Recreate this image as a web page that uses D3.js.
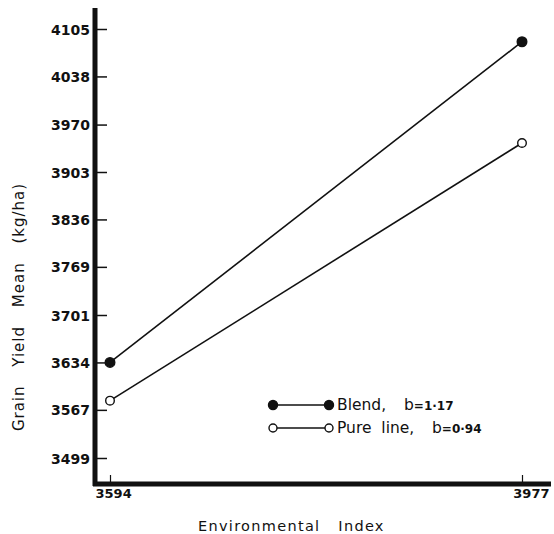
<!DOCTYPE html>
<html>
<head>
<meta charset="utf-8">
<script src="https://cdn.jsdelivr.net/npm/d3@7"></script>
<style>
  body { margin: 0; background: #fff; }
</style>
</head>
<body>
<svg id="chart" width="554" height="534"></svg>
<script>
// values
const envIndex = [3594, 3977];
const blend = [3634, 4087];
const pureLine = [3580, 3944];
const yTicks = [3499, 3567, 3634, 3701, 3769, 3836, 3903, 3970, 4038, 4105];
const series = [
  { name: "Blend,", b: "1·17", values: blend, filled: true },
  { name: "Pure  line,", b: "0·94", values: pureLine, filled: false }
];

let svg = d3.select("svg#chart");
let ink = "#111";

let x = d3.scaleLinear().domain([3594, 3977]).range([110, 522]);
let y = d3.scaleLinear().domain([3499, 4105]).range([458, 29]);

// y axis: thick spine, short ticks to the right, bold labels on the left
let yAxis = svg.append("g").attr("class", "axis axis--y")
  .attr("transform", "translate(95,0)")
  .call(d3.axisRight(y).tickValues(yTicks).tickSize(12).tickFormat(d3.format("d")));
yAxis.select(".domain").remove();
yAxis.selectAll(".tick line").attr("stroke", ink).attr("stroke-width", 1.5);
yAxis.selectAll(".tick text")
  .attr("x", -5)
  .attr("dy", "0.36em")
  .attr("text-anchor", "end")
  .attr("font-family", "DejaVu Sans")
  .attr("font-weight", "bold")
  .attr("font-size", "14px")
  .attr("fill", ink);

svg.append("line")
  .attr("x1", 95).attr("x2", 95).attr("y1", 8).attr("y2", 486)
  .attr("stroke", ink).attr("stroke-width", 5);

// x axis: ticks point up, labels below
let xAxis = svg.append("g").attr("class", "axis axis--x")
  .attr("transform", "translate(0,484)")
  .call(d3.axisTop(x).tickValues(envIndex).tickSize(9).tickFormat(d3.format("d")));
xAxis.select(".domain").remove();
xAxis.selectAll(".tick line").attr("stroke", ink).attr("stroke-width", 1.2);
xAxis.selectAll(".tick text")
  .attr("y", 14)
  .attr("dy", 0)
  .attr("font-family", "DejaVu Sans")
  .attr("font-weight", "bold")
  .attr("font-size", "13px")
  .attr("fill", ink)
  .attr("text-anchor", (d, i) => i === 0 ? "start" : "end")
  .attr("dx", (d, i) => i === 0 ? -15 : 27);

svg.append("line")
  .attr("x1", 93).attr("x2", 551).attr("y1", 484).attr("y2", 484)
  .attr("stroke", ink).attr("stroke-width", 5);

// response lines
let line = d3.line()
  .x((d, i) => x(envIndex[i]))
  .y(d => y(d));

let lines = svg.append("g").attr("class", "lines");
series.forEach(function(s) {
  lines.append("path")
    .attr("d", line(s.values))
    .attr("fill", "none")
    .attr("stroke", ink)
    .attr("stroke-width", 1.6);
  lines.selectAll(null).data(s.values).enter().append("circle")
    .attr("cx", (d, i) => x(envIndex[i]))
    .attr("cy", d => y(d))
    .attr("r", s.filled ? 4.8 : 4.3)
    .attr("fill", s.filled ? ink : "#fff")
    .attr("stroke", ink)
    .attr("stroke-width", 1.4);
});

// legend
let legend = svg.append("g").attr("class", "legend");
series.forEach(function(s, i) {
  let ly = 405 + 23 * i;
  legend.append("line")
    .attr("x1", 273).attr("x2", 329).attr("y1", ly).attr("y2", ly)
    .attr("stroke", ink).attr("stroke-width", 1.5);
  [273, 329].forEach(function(cx) {
    legend.append("circle")
      .attr("cx", cx).attr("cy", ly)
      .attr("r", s.filled ? 4.5 : 4)
      .attr("fill", s.filled ? ink : "#fff")
      .attr("stroke", ink).attr("stroke-width", 1.4);
  });
  let t = legend.append("text")
    .attr("x", 337).attr("y", ly + 5)
    .attr("fill", ink)
    .attr("font-family", "DejaVu Sans")
    .attr("font-size", "15.5px")
    .style("white-space", "pre");
  t.append("tspan").text(s.name);
  t.append("tspan").attr("x", i === 0 ? 404 : 432).text("b");
  t.append("tspan").attr("font-size", "12px").attr("font-weight", "bold").text("=" + s.b);
});

// axis titles
svg.append("text")
  .attr("x", 198).attr("y", 531)
  .attr("fill", ink)
  .attr("font-family", "DejaVu Sans")
  .attr("font-size", "14.5px")
  .attr("letter-spacing", "1.3px")
  .attr("word-spacing", "12px")
  .text("Environmental Index");

svg.append("text")
  .attr("transform", "translate(24,307) rotate(-90)")
  .attr("text-anchor", "middle")
  .attr("fill", ink)
  .attr("font-family", "DejaVu Sans")
  .attr("font-size", "15px")
  .attr("letter-spacing", "1px")
  .attr("word-spacing", "13px")
  .text("Grain Yield Mean (kg/ha)");
</script>
</body>
</html>
